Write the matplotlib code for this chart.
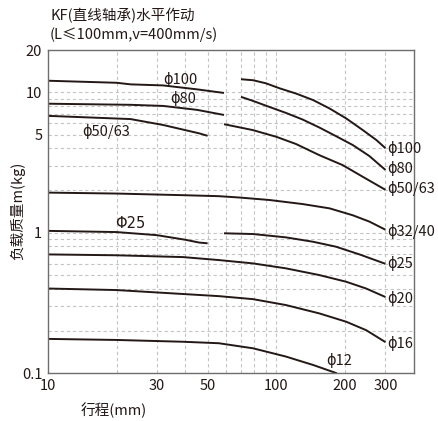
import matplotlib.pyplot as plt
from matplotlib.ticker import FixedLocator, LogLocator, NullFormatter

plt.rcParams["font.family"] = ["Noto Sans CJK SC", "DejaVu Sans"]

# curves: stroke (mm) vs load mass (kg)
phi100_x1 = [10, 20, 23, 32, 45, 59]
phi100_y1 = [12.1, 11.7, 11.4, 11.2, 10.5, 9.9]
phi100_x2 = [70, 79, 90, 103, 122, 145, 171, 202, 239, 274, 300]
phi100_y2 = [12.4, 12.2, 11.6, 10.7, 9.8, 8.8, 7.67, 6.52, 5.38, 4.57, 4.0]

phi80_x1 = [10, 23, 32, 45, 59]
phi80_y1 = [8.3, 8.15, 8.0, 7.5, 6.9]
phi80_x2 = [70, 79, 93, 110, 130, 154, 182, 216, 255, 300]
phi80_y2 = [9.29, 8.69, 7.88, 7.14, 6.41, 5.62, 4.88, 4.21, 3.52, 2.8]

phi50_x1 = [10, 23, 32, 46, 50]
phi50_y1 = [6.8, 6.45, 5.85, 5.1, 4.9]
phi50_x2 = [59, 79, 100, 122, 154, 195, 239, 300]
phi50_y2 = [5.93, 5.38, 4.82, 4.28, 3.57, 3.03, 2.5, 2.02]

phi32_x = [10, 20, 39, 56, 69, 93, 130, 171, 216, 255, 300]
phi32_y = [1.93, 1.9, 1.85, 1.82, 1.78, 1.71, 1.6, 1.49, 1.33, 1.2, 1.05]

phi25_x1 = [10, 20, 30, 40, 46, 50]
phi25_y1 = [1.03, 1.01, 0.96, 0.89, 0.85, 0.84]
phi25_x2 = [59, 79, 110, 145, 182, 231, 300]
phi25_y2 = [0.99, 0.978, 0.926, 0.861, 0.795, 0.70, 0.60]

phi20_x = [10, 20, 39, 56, 79, 110, 154, 202, 247, 300]
phi20_y = [0.70, 0.69, 0.67, 0.638, 0.604, 0.557, 0.499, 0.447, 0.40, 0.348]

phi16_x = [10, 20, 30, 56, 79, 110, 154, 202, 247, 300]
phi16_y = [0.40, 0.39, 0.375, 0.353, 0.336, 0.305, 0.266, 0.232, 0.202, 0.166]

phi12_x = [10, 20, 39, 56, 79, 110, 145, 184]
phi12_y = [0.175, 0.172, 0.167, 0.163, 0.150, 0.131, 0.114, 0.0995]

segments = [
    (phi100_x1, phi100_y1), (phi100_x2, phi100_y2),
    (phi80_x1, phi80_y1), (phi80_x2, phi80_y2),
    (phi50_x1, phi50_y1), (phi50_x2, phi50_y2),
    (phi32_x, phi32_y),
    (phi25_x1, phi25_y1), (phi25_x2, phi25_y2),
    (phi20_x, phi20_y),
    (phi16_x, phi16_y),
    (phi12_x, phi12_y),
]

# right-hand end labels (text, y value at x=300)
end_labels = ["ϕ100", "ϕ80", "ϕ50/63", "ϕ32/40", "ϕ25", "ϕ20", "ϕ16"]
end_label_y = [3.95, 2.85, 2.07, 1.02, 0.60, 0.34, 0.163]

x_ticks = [10, 30, 50, 100, 200, 300]
y_ticks = [0.1, 1, 5, 10, 20]

fig = plt.figure(figsize=(4.39, 4.21), dpi=100)
ax = fig.add_axes((0.109, 0.114, 0.834, 0.767))
ax.set_xscale("log")
ax.set_yscale("log")
ax.set_xlim(10, 400)
ax.set_ylim(0.1, 20)

for xs, ys in segments:
    ax.plot(xs, ys, color="#231815", lw=1.4, solid_capstyle="butt")

# grid
grid_x = [20, 30, 40, 50, 60, 70, 80, 90, 100, 200, 300]
for gx in grid_x:
    ax.axvline(gx, color="#c4c4c4", lw=0.8, ls=(0, (3, 2.5)), zorder=0)
ax.yaxis.set_minor_locator(LogLocator(base=10, subs=range(2, 10)))
ax.yaxis.set_minor_formatter(NullFormatter())
ax.grid(True, which="both", axis="y", color="#c4c4c4", lw=0.8, ls=(0, (3, 2.5)))
ax.set_axisbelow(True)

ax.xaxis.set_major_locator(FixedLocator(x_ticks))
ax.xaxis.set_minor_locator(FixedLocator([]))
ax.set_xticklabels([str(v) for v in x_ticks])
ax.yaxis.set_major_locator(FixedLocator(y_ticks))
ax.set_yticklabels(["0.1", "1", "5", "10", "20"])
ax.tick_params(which="both", length=0, labelsize=10.5, colors="#231815", pad=4)

for s in ax.spines.values():
    s.set_color("#6e6e6e")
    s.set_linewidth(1.0)

# labels on curves
txt = dict(fontsize=10.5, color="#231815", clip_on=False)
for lab, yv in zip(end_labels, end_label_y):
    ax.text(305, yv, lab, ha="left", va="center", **txt)
ax.text(165, 0.108, "ϕ12", ha="left", va="bottom", **txt)
ax.text(38, 12.3, "ϕ100", ha="center", va="center", **txt)
ax.text(39, 9.0, "ϕ80", ha="center", va="center", **txt)
ax.text(18, 5.3, "ϕ50/63", ha="center", va="center", **txt)
ax.text(23, 1.17, "Φ25", ha="center", va="center", fontsize=10.5,
        color="#231815", family="DejaVu Sans")

fig.text(0.114, 0.962, "KF(直线轴承)水平作动", fontsize=10.5, color="#231815",
         ha="left", va="center")
fig.text(0.114, 0.918, "(L≤100mm,v=400mm/s)", fontsize=10.5, color="#231815",
         ha="left", va="center")
fig.text(0.04, 0.50, "负载质量m(kg)", rotation=90, fontsize=10.5,
         color="#231815", ha="center", va="center")
fig.text(0.26, 0.026, "行程(mm)", fontsize=10.5, color="#231815",
         ha="center", va="center")

fig.savefig("out.png", dpi=100)
